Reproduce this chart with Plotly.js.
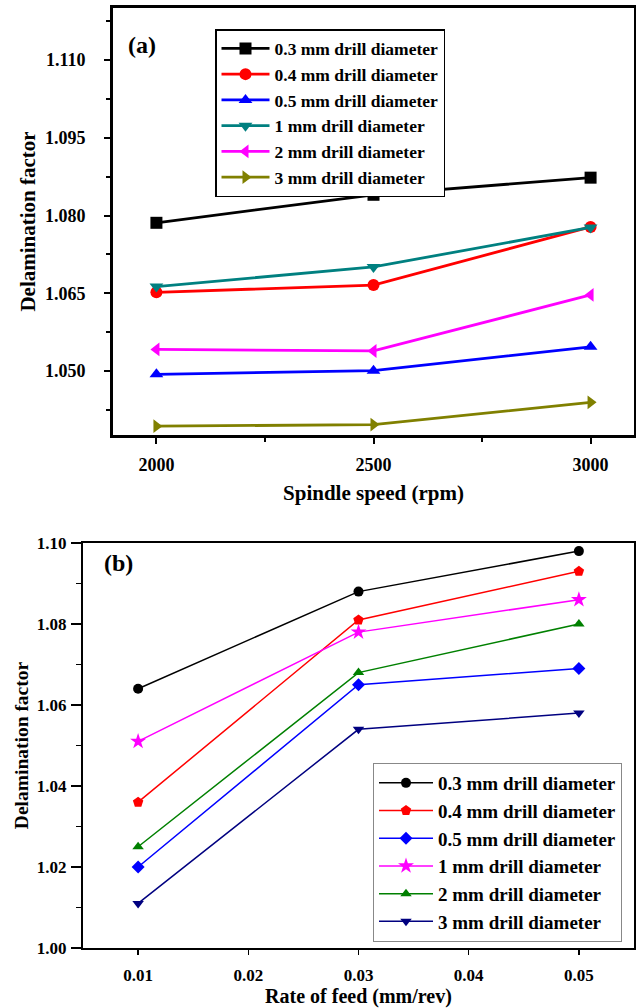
<!DOCTYPE html>
<html>
<head>
<meta charset="utf-8">
<script src="https://cdn.plot.ly/plotly-3.0.1.min.js"></script>
<style>
html,body{margin:0;padding:0;background:#fff;}
#chart{width:636px;height:1008px;}
</style>
</head>
<body>
<div id="chart"></div>
<script>
// ---- Panel (a): spindle speed ----
const speeds = [2000, 2500, 3000];
const seriesNamesA = ["0.3 mm drill diameter", "0.4 mm drill diameter", "0.5 mm drill diameter",
                      "1 mm drill diameter", "2 mm drill diameter", "3 mm drill diameter"];
const a03 = [1.0786, 1.0840, 1.0873];
const a04 = [1.0652, 1.0666, 1.0778];
const a05 = [1.0494, 1.0501, 1.0547];
const a1  = [1.0663, 1.0701, 1.0777];
const a2  = [1.0542, 1.0539, 1.0647];
const a3  = [1.0394, 1.0397, 1.0440];

// ---- Panel (b): rate of feed ----
const feeds = [0.01, 0.03, 0.05];
const feedTicks = [0.01, 0.02, 0.03, 0.04, 0.05];
const seriesNamesB = seriesNamesA;
const b03 = [1.064, 1.088, 1.098];
const b04 = [1.036, 1.081, 1.093];
const b05 = [1.020, 1.065, 1.069];
const b1  = [1.051, 1.078, 1.086];
const b2  = [1.025, 1.068, 1.080];
const b3  = [1.011, 1.054, 1.058];

// tick marks on the top / right borders of panel (a)
const topMajorTicks = [2140, 2381, 2621, 2861];
const topMinorTicks = [2019, 2260, 2501, 2741, 2981];
const rightMajorTicks = [1.1036, 1.0870, 1.0705, 1.0539];
const rightMinorTicks = [1.1118, 1.0953, 1.0788, 1.0622, 1.0457];

const FONT = "Liberation Serif, Times New Roman, serif";
const W = 636, H = 1008;

const seriesA = [a03, a04, a05, a1, a2, a3];
const colorsA = ["#000000", "#FF0000", "#0000FF", "#008080", "#FF00FF", "#808000"];
const symbolsA = ["square", "circle", "triangle-up", "triangle-down", "triangle-left", "triangle-right"];

const seriesB = [b03, b04, b05, b1, b2, b3];
const colorsB = ["#000000", "#FF0000", "#0000FF", "#FF00FF", "#008000", "#000080"];
const symbolsB = ["circle", "pentagon", "diamond", "star", "triangle-up", "triangle-down"];
const sizesB = [10, 11, 10, 12, 10, 10];

const traces = [];
seriesA.forEach((ys, i) => {
  traces.push({
    x: speeds, y: ys, name: seriesNamesA[i], type: "scatter", mode: "lines+markers",
    xaxis: "x", yaxis: "y", legend: "legend",
    line: {color: colorsA[i], width: 2.8},
    marker: {color: colorsA[i], symbol: symbolsA[i], size: 12}
  });
});
seriesB.forEach((ys, i) => {
  traces.push({
    x: feeds, y: ys, name: seriesNamesB[i], type: "scatter", mode: "lines+markers",
    xaxis: "x2", yaxis: "y2", legend: "legend2",
    line: {color: colorsB[i], width: 1.5},
    marker: {color: colorsB[i], symbol: symbolsB[i], size: sizesB[i]}
  });
});

const px = v => v / W;
const py = v => 1 - v / H;

const tickFontA = {family: FONT, size: 18, color: "#000", weight: "bold"};
const tickFontB = {family: FONT, size: 17, color: "#000", weight: "bold"};

const layout = {
  width: W, height: H,
  margin: {l: 0, r: 0, t: 0, b: 0},
  paper_bgcolor: "#fff", plot_bgcolor: "#fff",
  font: {family: FONT, color: "#000"},
  showlegend: true,
  xaxis: {
    domain: [px(113), px(634)], anchor: "y",
    range: [1900, 3100], tick0: 2000, dtick: 500,
    ticks: "outside", ticklen: 6, tickwidth: 2, tickcolor: "#000",
    minor: {dtick: 250, tick0: 2000, ticks: "outside", ticklen: 4, tickwidth: 2, tickcolor: "#000"},
    showline: true, linewidth: 3, linecolor: "#000", mirror: true,
    showgrid: false, zeroline: false,
    tickfont: tickFontA, ticklabelstandoff: 5,
    title: {text: "Spindle speed (rpm)", font: {family: FONT, size: 21, weight: "bold", color: "#000"}, standoff: 12}
  },
  yaxis: {
    domain: [py(435), py(8)], anchor: "x",
    range: [1.0377, 1.1200], tick0: 1.050, dtick: 0.015, tickformat: ".3f",
    ticks: "outside", ticklen: 6, tickwidth: 2, tickcolor: "#000",
    minor: {dtick: 0.0075, tick0: 1.0425, ticks: "outside", ticklen: 4, tickwidth: 2, tickcolor: "#000"},
    showline: true, linewidth: 3, linecolor: "#000", mirror: true,
    showgrid: false, zeroline: false,
    tickfont: tickFontA, ticklabelstandoff: 15,
    title: {text: "Delamination factor", font: {family: FONT, size: 21, weight: "bold", color: "#000"}, standoff: 4}
  },
  xaxis3: {
    overlaying: "x", anchor: "y", side: "top",
    range: [1900, 3100], tickmode: "array", tickvals: topMajorTicks,
    ticks: "inside", ticklen: 7, tickwidth: 2, tickcolor: "#000",
    minor: {tickmode: "array", tickvals: topMinorTicks, ticks: "inside", ticklen: 5, tickwidth: 2, tickcolor: "#000"},
    showticklabels: false, showgrid: false, zeroline: false, showline: false
  },
  yaxis3: {
    overlaying: "y", anchor: "x", side: "right",
    range: [1.0377, 1.1200], tickmode: "array", tickvals: rightMajorTicks,
    ticks: "inside", ticklen: 7, tickwidth: 2, tickcolor: "#000",
    minor: {tickmode: "array", tickvals: rightMinorTicks, ticks: "inside", ticklen: 5, tickwidth: 2, tickcolor: "#000"},
    showticklabels: false, showgrid: false, zeroline: false, showline: false
  },
  xaxis2: {
    domain: [px(83), px(634)], anchor: "y2",
    range: [0.005, 0.055], tickmode: "array", tickvals: feedTicks, tickformat: ".2f",
    ticks: "outside", ticklen: 5, tickwidth: 1.5, tickcolor: "#000",
    showline: true, linewidth: 2, linecolor: "#000", mirror: true,
    showgrid: false, zeroline: false,
    tickfont: tickFontB, ticklabelstandoff: 6,
    title: {text: "Rate of feed (mm/rev)", font: {family: FONT, size: 20, weight: "bold", color: "#000"}, standoff: 11}
  },
  yaxis2: {
    domain: [py(948), py(543)], anchor: "x2",
    range: [1.00, 1.10], tick0: 1.00, dtick: 0.02, tickformat: ".2f",
    ticks: "outside", ticklen: 10, tickwidth: 1.5, tickcolor: "#000",
    minor: {dtick: 0.01, ticks: "outside", ticklen: 5, tickwidth: 1.5, tickcolor: "#000"},
    showline: true, linewidth: 2, linecolor: "#000", mirror: true,
    showgrid: false, zeroline: false,
    tickfont: tickFontB, ticklabelstandoff: 1,
    title: {text: "Delamination factor", font: {family: FONT, size: 19.5, weight: "bold", color: "#000"}, standoff: 3}
  },
  legend: {
    x: px(215), y: py(29), xanchor: "left", yanchor: "top",
    bgcolor: "#fff", bordercolor: "#000", borderwidth: 1.5,
    font: {family: FONT, size: 17.5, weight: "bold", color: "#000"},
    itemwidth: 48, tracegroupgap: 0
  },
  legend2: {
    x: px(373), y: py(763), xanchor: "left", yanchor: "top",
    bgcolor: "#fff", bordercolor: "#888", borderwidth: 1,
    font: {family: FONT, size: 19, weight: "bold", color: "#000"},
    itemwidth: 54, tracegroupgap: 0
  },
  annotations: [
    {text: "(a)", xref: "paper", yref: "paper", x: px(142), y: py(45), xanchor: "center", yanchor: "middle",
     showarrow: false, font: {family: FONT, size: 24, weight: "bold", color: "#000"}},
    {text: "(b)", xref: "paper", yref: "paper", x: px(119), y: py(563), xanchor: "center", yanchor: "middle",
     showarrow: false, font: {family: FONT, size: 24, weight: "bold", color: "#000"}}
  ]
};

Plotly.newPlot("chart", traces, layout, {staticPlot: true, displayModeBar: false});
</script>
</body>
</html>
